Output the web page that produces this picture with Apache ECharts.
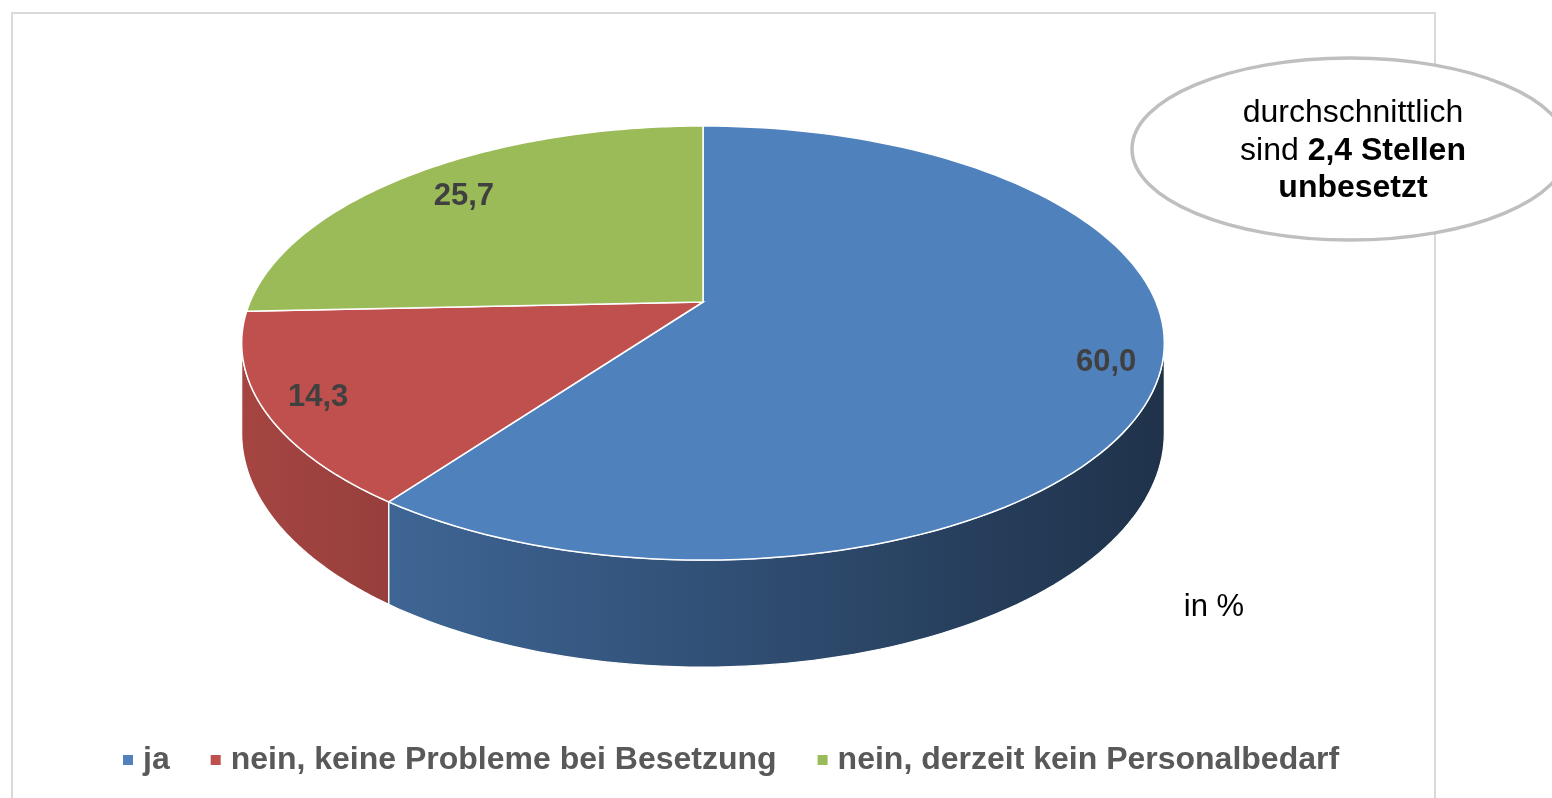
<!DOCTYPE html>
<html>
<head>
<meta charset="utf-8">
<script src="https://cdn.jsdelivr.net/npm/echarts@6/dist/echarts.min.js"></script>
<style>
html,body{margin:0;padding:0;background:#fff;}
#chart{width:1552px;height:798px;}
</style>
</head>
<body>
<div id="chart"></div>
<script>
// ---- data ----
const categories = ['ja', 'nein, keine Probleme bei Besetzung', 'nein, derzeit kein Personalbedarf'];
const values = [60.0, 14.3, 25.7];
const unitNote = 'in %';
const noteLines = ['durchschnittlich', 'sind ', '2,4 Stellen', 'unbesetzt'];

// ---- style / layout ----
const colors = ['#4F81BD', '#C0504D', '#9BBB59'];
const FONT = '"Liberation Sans", Arial, sans-serif';
const CX = 703, CY = 302;       // projected pie centre
const A = 453, B = 209.3;       // projected radii
const K = 0.189;                // perspective strength
const H = 86.8;                 // thickness
const LABEL_INSET = 55;         // label distance from rim (px)
const PHI1 = Math.acos(-K), PHI2 = 2 * Math.PI - PHI1; // visible wall range

function proj(r, phi, drop) {
  const d = 1 + K * r * Math.cos(phi);
  return [CX + A * r * Math.sin(phi) / d, CY + (-B * r * Math.cos(phi) + (drop || 0)) / d];
}
function shade(hex, f) {
  const n = parseInt(hex.slice(1), 16);
  const r = Math.round(((n >> 16) & 255) * f), g = Math.round(((n >> 8) & 255) * f), b = Math.round((n & 255) * f);
  return 'rgb(' + r + ',' + g + ',' + b + ')';
}
const total = values.reduce((s, v) => s + v, 0);

function renderItem(params, api) {
  const i = params.seriesIndex;
  let before = 0;
  for (let k = 0; k < i; k++) before += values[k];
  const start = before / total * 2 * Math.PI;
  const end = (before + values[i]) / total * 2 * Math.PI;
  const color = colors[i];
  const children = [];
  // side wall
  const ws = Math.max(start, PHI1), we = Math.min(end, PHI2);
  if (ws < we) {
    const pts = [];
    const n = 80;
    for (let s = 0; s <= n; s++) pts.push(proj(1, ws + (we - ws) * s / n, 0));
    for (let s = n; s >= 0; s--) pts.push(proj(1, ws + (we - ws) * s / n, H));
    children.push({
      type: 'polygon',
      shape: { points: pts },
      style: {
        fill: new echarts.graphic.LinearGradient(242, 0, 1165, 0, [
          { offset: 0, color: shade(color, 0.86) },
          { offset: 1, color: shade(color, 0.39) }
        ], true),
        stroke: '#ffffff', lineWidth: 1.2
      }
    });
  }
  // top face
  const tp = [proj(0, 0, 0)];
  const m = 120;
  for (let s = 0; s <= m; s++) tp.push(proj(1, start + (end - start) * s / m, 0));
  children.push({
    type: 'polygon',
    shape: { points: tp },
    style: { fill: color, stroke: '#ffffff', lineWidth: 1.5, lineJoin: 'miter' }
  });
  // label: rim point at mid angle, moved inward toward the centre
  const mid = (start + end) / 2;
  const rim = proj(1, mid, 0);
  const dx = CX - rim[0], dy = CY - rim[1];
  const len = Math.sqrt(dx * dx + dy * dy);
  children.push({
    type: 'text',
    x: rim[0] + dx / len * LABEL_INSET, y: rim[1] + dy / len * LABEL_INSET,
    style: {
      text: api.value(0).toFixed(1).replace('.', ','),
      fill: '#404040', font: 'bold 31px ' + FONT,
      align: 'center', verticalAlign: 'middle'
    }
  });
  return { type: 'group', children: children };
}

const series = categories.map((name, i) => ({
  type: 'custom',
  name: name,
  coordinateSystem: 'none',
  itemStyle: { color: colors[i] },
  renderItem: renderItem,
  data: [[values[i]]],
  silent: true,
  animation: false
}));

const chart = echarts.init(document.getElementById('chart'), null, { renderer: 'canvas' });
chart.setOption({
  backgroundColor: '#ffffff',
  animation: false,
  legend: {
    data: categories,
    left: 123,
    top: 744,
    padding: 0,
    icon: 'rect',
    itemWidth: 10,
    itemHeight: 10,
    itemGap: 41,
    selectedMode: false,
    textStyle: { fontSize: 32, fontWeight: 'bold', color: '#595959', fontFamily: FONT, padding: [0, 0, 0, 5] }
  },
  graphic: [
    { type: 'rect', z: 0, shape: { x: 12, y: 13, width: 1423, height: 800 },
      style: { fill: 'none', stroke: '#d9d9d9', lineWidth: 2 } },
    { type: 'ellipse', z: 10, shape: { cx: 1350, cy: 149, rx: 218, ry: 91 },
      style: { fill: '#ffffff', stroke: '#bfbfbf', lineWidth: 3.5 } },
    { type: 'text', z: 11, x: 1353, y: 151,
      style: {
        text: noteLines[0] + '\n' + noteLines[1] + '{b|' + noteLines[2] + '}\n{b|' + noteLines[3] + '}',
        font: '32px ' + FONT, fill: '#000000', align: 'center', verticalAlign: 'middle', lineHeight: 37.5,
        rich: { b: { fontWeight: 'bold', fontSize: 32, fontFamily: FONT, fill: '#000000', lineHeight: 37.5 } }
      } },
    { type: 'text', z: 11, x: 1214, y: 607,
      style: { text: unitNote, font: '31px ' + FONT, fill: '#000000', align: 'center', verticalAlign: 'middle' } }
  ],
  series: series
});
</script>
</body>
</html>
